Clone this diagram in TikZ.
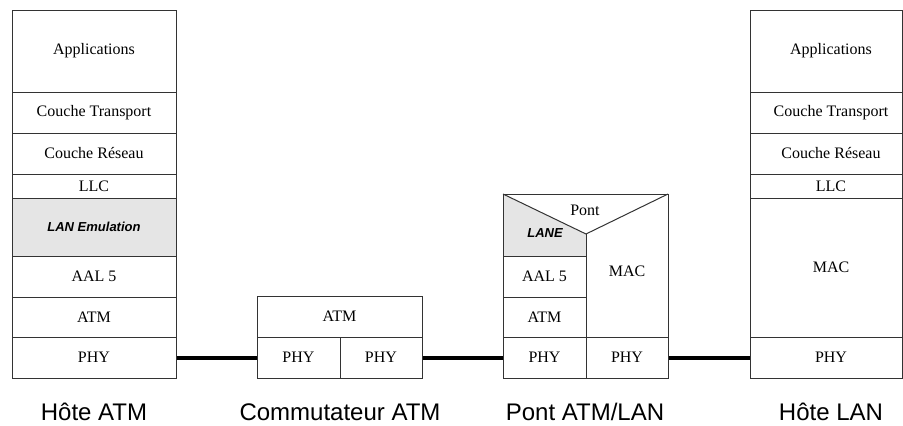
\documentclass[tikz,border=0pt]{standalone}
\usepackage{fontspec}
\setmainfont{Liberation Serif}
\newfontfamily\arialfont{Liberation Sans}
\definecolor{lanegray}{HTML}{E5E5E5}
\definecolor{edge}{HTML}{333333}
\begin{document}
\begin{tikzpicture}[x=1pt,y=-1pt,
  cell/.style={draw=edge, line width=1pt, inner sep=0pt, minimum width=164pt,
    font=\fontsize{16}{19}\selectfont},
  rcell/.style={cell, minimum width=152pt, execute at begin node={\hspace*{10pt}}},
  half/.style={cell, minimum width=83pt},
  shaded/.style={fill=lanegray},
  lanefont/.style={font=\arialfont\bfseries\itshape\fontsize{13}{15}\selectfont},
  plain/.style={inner sep=0pt, font=\fontsize{16}{19}\selectfont},
  caption/.style={inner sep=0pt, anchor=base, font=\arialfont\fontsize{24}{28}\selectfont},
  link/.style={line width=4pt, black}]
\useasboundingbox (0,0) rectangle (903,426);

% ---- Hote ATM (left stack)
\node[cell, minimum height=82pt] (app1) at (94,51) {Applications};
\node[cell, minimum height=41pt] (tr1) at (94,112.5) {Couche Transport};
\node[cell, minimum height=41pt] (res1) at (94,153.5) {Couche Réseau};
\node[cell, minimum height=24pt] (llc1) at (94,186) {LLC};
\node[cell, shaded, lanefont, minimum height=58pt] (lane1) at (94,227) {LAN Emulation};
\node[cell, minimum height=41pt] (aal1) at (94,276.5) {AAL 5};
\node[cell, minimum height=40pt] (atm1) at (94,317) {ATM};
\node[cell, minimum height=41pt] (phy1) at (94,357.5) {PHY};

% ---- Commutateur ATM
\node[cell, minimum width=165pt, minimum height=41pt] (satm) at (339.5,316.5) {ATM};
\node[half, minimum height=41pt] (sphya) at (298.5,357.5) {PHY};
\node[half, minimum width=82pt, minimum height=41pt] (sphyb) at (381,357.5) {PHY};

% ---- Pont ATM/LAN
\coordinate (btl) at (503,194);
\coordinate (btr) at (668,194);
\coordinate (bapex) at (586,234);
\coordinate (blane) at (586,256);
\coordinate (bleft) at (503,256);
\fill[lanegray] (btl) -- (bapex) -- (blane) -- (bleft) -- cycle;
\draw[edge, line width=1pt] (btl) -- (btr) -- (668,337) -- (503,337) -- cycle;
\draw[edge, line width=1pt] (btl) -- (bapex) -- (btr);
\draw[edge, line width=1pt] (bapex) -- (586,337);
\draw[edge, line width=1pt] (bleft) -- (blane);
\node[half, minimum height=41pt] (baal) at (544.5,276.5) {AAL 5};
\node[half, minimum height=40pt] (batm) at (544.5,317) {ATM};
\node[half, minimum height=41pt] (bphya) at (544.5,357.5) {PHY};
\node[half, minimum width=82pt, minimum height=41pt] (bphyb) at (627,357.5) {PHY};
\node[plain] (pont) at (585,210) {Pont};
\node[inner sep=0pt, lanefont] (lane2) at (545,233) {LANE};
\node[plain] (mac2) at (627,271) {MAC};

% ---- Hote LAN (right stack)
\node[rcell, minimum height=82pt] (app3) at (826,51) {Applications};
\node[rcell, minimum height=41pt] (tr3) at (826,112.5) {Couche Transport};
\node[rcell, minimum height=41pt] (res3) at (826,153.5) {Couche Réseau};
\node[rcell, minimum height=24pt] (llc3) at (826,186) {LLC};
\node[rcell, minimum height=139pt] (mac3) at (826,267.5) {MAC};
\node[rcell, minimum height=41pt] (phy3) at (826,357.5) {PHY};

% ---- links
\draw[link] (phy1.east) -- (sphya.west);
\draw[link] (sphyb.east) -- (bphya.west);
\draw[link] (bphyb.east) -- (phy3.west);

% ---- captions
\node[caption] (c1) at (94,420) {Hôte ATM};
\node[caption] (c2) at (340,420) {Commutateur ATM};
\node[caption] (c3) at (585,420) {Pont ATM/LAN};
\node[caption] (c4) at (831,420) {Hôte LAN};
\end{tikzpicture}
\end{document}
